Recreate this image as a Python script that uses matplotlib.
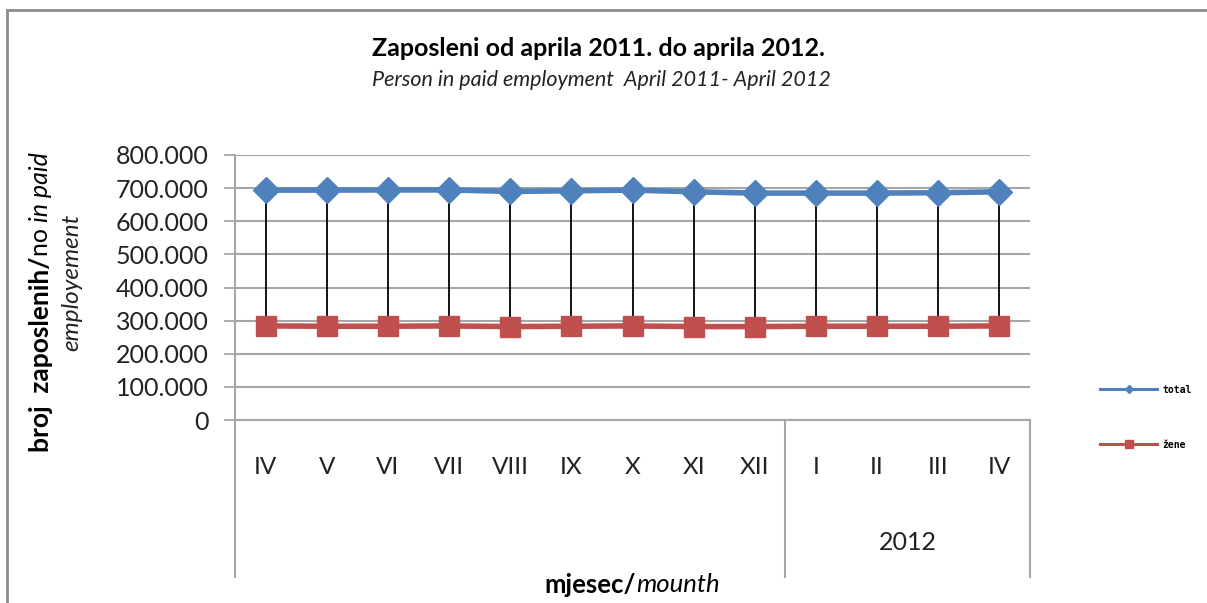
import matplotlib

matplotlib.use("Agg")
import matplotlib.pyplot as plt
from matplotlib.lines import Line2D
from matplotlib.ticker import FuncFormatter

months = ["IV", "V", "VI", "VII", "VIII", "IX", "X", "XI", "XII", "I", "II", "III", "IV"]
year_groups = [("", 0, 8), ("2012", 9, 12)]
total = [694000, 694000, 694500, 694500, 690000, 692000, 694000, 689000, 685000,
         685000, 685000, 686000, 689000]
zene = [284000, 283000, 283000, 284000, 282000, 283000, 284000, 282000, 282000,
        283000, 283000, 283000, 284000]
yticks = [0, 100000, 200000, 300000, 400000, 500000, 600000, 700000, 800000]

BLUE = "#4F81BD"
RED = "#C0504D"
GRID = "#A6A6A6"
FONT = "Lato"

plt.rcParams["font.family"] = [FONT, "DejaVu Sans"]

W, H = 1207, 603
fig = plt.figure(figsize=(W / 100, H / 100), dpi=100)


def px(x, y):
    """pixel position (from top-left) -> figure fraction"""
    return x / W, 1 - y / H


# outer chart frame (only the top and left edges are inside the picture)
fig.add_artist(Line2D([7 / W, 7 / W], [0, 1 - 10 / H], color="#8C8C8C", lw=2,
                      transform=fig.transFigure))
fig.add_artist(Line2D([7 / W, 1], [1 - 10 / H, 1 - 10 / H], color="#8C8C8C", lw=2,
                      transform=fig.transFigure))

left, right = 235 / W, 1030 / W
bottom, top = 1 - 420 / H, 1 - 155 / H
ax = fig.add_axes([left, bottom, right - left, top - bottom])

x = list(range(len(months)))
ax.vlines(x, zene, total, color="black", lw=1.3, zorder=3)
ax.plot(x, total, color=BLUE, lw=4, marker="D", markersize=13, zorder=4,
        label="total")
ax.plot(x, zene, color=RED, lw=4, marker="s", markersize=15, zorder=4,
        label="žene")

ax.set_xlim(-0.5, len(months) - 0.5)
ax.set_ylim(0, 800000)
ax.set_yticks(yticks)
ax.yaxis.set_major_formatter(
    FuncFormatter(lambda v, _: "0" if v == 0 else f"{int(v):,}".replace(",", "."))
)
ax.tick_params(axis="y", labelsize=18, length=8, color=GRID, width=1.3,
               pad=11, labelcolor="#222222")
ax.set_xticks([])
ax.grid(axis="y", color=GRID, lw=1.5)
ax.set_axisbelow(True)
for s in ("top", "right"):
    ax.spines[s].set_visible(False)
for s in ("left", "bottom"):
    ax.spines[s].set_color(GRID)
    ax.spines[s].set_linewidth(1.5)

# two-level category axis
depth = -(577 - 420) / (420 - 155)
n = len(months)
for xv in (0, 9 / n, 1):
    ax.plot([xv, xv], [0, depth], transform=ax.transAxes, color=GRID, lw=1.5,
            clip_on=False)
for i, m in enumerate(months):
    ax.text(i, -(467 - 420) / (420 - 155) * 800000, m, ha="center", va="center",
            fontsize=17.5, color="#222222")
for label, a, b in year_groups:
    if label:
        ax.text((a + b) / 2, -(543 - 420) / (420 - 155) * 800000, label,
                ha="center", va="center", fontsize=18, color="#222222")

# titles
fig.text(*px(599, 48), "Zaposleni od aprila 2011. do aprila 2012.", ha="center",
         va="center", fontsize=18, fontweight="bold")
fig.text(*px(601, 80), "Person in paid employment  April 2011- April 2012",
         ha="center", va="center", fontsize=15.5, style="italic", color="#222222")

# x axis title: bold + italic pieces
renderer = fig.canvas.get_renderer()
t1 = fig.text(0, 0, "mjesec/", fontsize=18.5, fontweight="bold")
t2 = fig.text(0, 0, "mounth", fontsize=18.5, style="italic")
w1 = t1.get_window_extent(renderer).width
w2 = t2.get_window_extent(renderer).width
x0 = 632 - (w1 + w2) / 2
t1.set_position(px(x0, 585))
t1.set_va("center")
t2.set_position(px(x0 + w1, 585))
t2.set_va("center")

# y axis title, rotated, built from pieces stacked bottom-up
pieces = [("broj  zaposlenih/", "bold", "normal", 19), ("no ", "normal", "normal", 18),
          ("in paid", "normal", "italic", 18)]
ypos = 452
for txt, wt, st, fs in pieces:
    t = fig.text(*px(41, ypos), txt, rotation=90, ha="center", va="bottom",
                 fontsize=fs, fontweight=wt, style=st)
    ext = t.get_window_extent(renderer)
    ypos -= ext.height
fig.text(*px(72, 282), "employement", rotation=90, ha="center", va="center",
         fontsize=17.5, style="italic", color="#222222")

# legend
leg = ax.legend(loc="upper left", bbox_to_anchor=(1096 / W, 1 - 381 / H),
                bbox_transform=fig.transFigure, frameon=False,
                handlelength=5.9, labelspacing=4.6, borderaxespad=0,
                handletextpad=0.5, prop={"family": "DejaVu Sans Mono",
                                          "weight": "bold", "size": 7})
for h in leg.legend_handles:
    h.set_linewidth(2.2)
    h.set_markersize(6 if h.get_marker() == "s" else 4)

fig.savefig("out.png", dpi=100)
